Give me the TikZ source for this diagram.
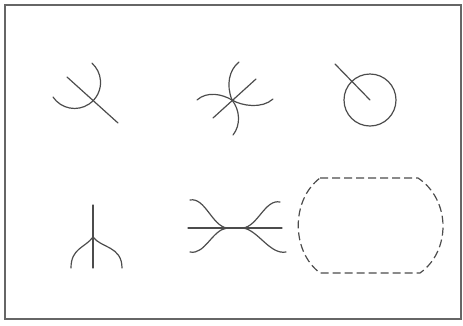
\documentclass[tikz,border=0pt]{standalone}
\begin{document}
\begin{tikzpicture}[x=1pt,y=-1pt,
  ink/.style={draw=black!70, line width=1.2pt, line cap=round},
  frame/.style={draw=black!60, line width=1.6pt},
  dashline/.style={ink, line cap=butt, dash pattern=on 8pt off 4pt}]
\useasboundingbox (0,0) rectangle (463,325);
\draw[frame] (5,5) rectangle (461,319);
% shape 1
\draw[ink] (67,77) -- (118,123);
\draw[ink] (53,97) arc[start angle=214, end angle=408, radius=26pt];
% shape 2
\coordinate (c2) at (232,100);
\draw[ink] (213,118) -- (256,79);
\draw[ink] (c2) .. controls (226,85) and (229,70) .. (239,62);
\draw[ink] (c2) .. controls (240,110) and (241,125) .. (233,135);
\draw[ink] (c2) .. controls (222,94) and (207,91) .. (197,100);
\draw[ink] (c2) .. controls (242,106) and (262,109) .. (273,99);
% shape 3
\coordinate (c3) at (370,100);
\draw[ink] (c3) circle[radius=26pt];
\draw[ink] (335,64) -- (c3);
% shape 4
\coordinate (j4) at (93,237);
\draw[ink] (93,205) -- (93,268);
\draw[ink] (j4) .. controls (85,248) and (71,248) .. (71,268);
\draw[ink] (j4) .. controls (101,248) and (122,246) .. (122,268);
% shape 5
\coordinate (l5) at (227,228);
\coordinate (r5) at (243,228);
\draw[ink] (188,228) -- (282,228);
\draw[ink] (190,200) .. controls (205,197) and (212,226) .. (l5);
\draw[ink] (190,252) .. controls (205,255) and (212,230) .. (l5);
\draw[ink] (280,202) .. controls (265,199) and (258,226) .. (r5);
\draw[ink] (286,252) .. controls (270,255) and (258,230) .. (r5);
% shape 6
\draw[dashline] (320,178) -- (418,178) .. controls (451,200) and (451,251) .. (420,273)
  -- (320,273) .. controls (291,251) and (291,200) .. cycle;
\end{tikzpicture}
\end{document}
